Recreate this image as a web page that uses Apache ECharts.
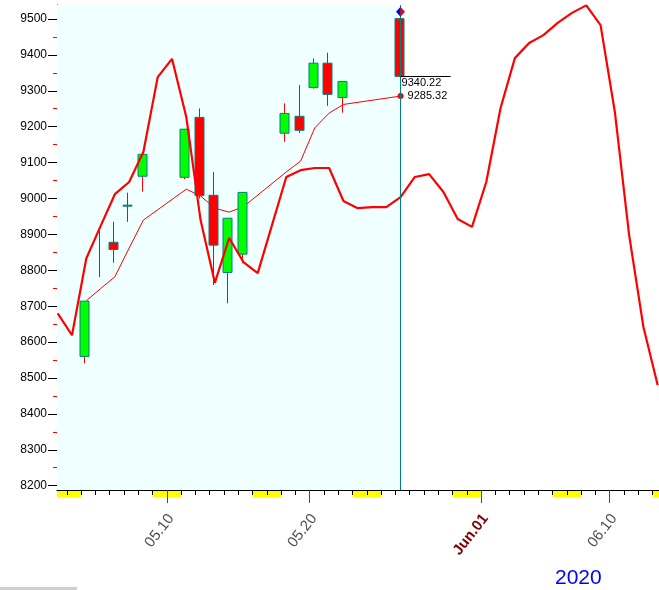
<!DOCTYPE html>
<html><head><meta charset="utf-8">
<script src="https://cdn.jsdelivr.net/npm/echarts@6/dist/echarts.min.js"></script>
<style>html,body{margin:0;padding:0;background:#fff;overflow:hidden}#c{width:659px;height:590px}</style>
</head><body><div id="c"></div>
<script>
// Day index: May d -> d, June d -> 31 + d
const candleDays = [4, 5, 6, 7, 8, 11, 12, 13, 14, 15, 18, 19, 20, 21, 22, 26];
const opens  = [8560, null, 8878, 8980, 9062, 9059, 9226, 9009, 8794, 8845, 9182, 9229, 9309, 9377, 9281, 9501];
const closes = [8714, null, 8858, 8980, 9123, 9193, 9008, 8870, 8945, 9017, 9237, 9190, 9377, 9290, 9326, 9340.22];
const lows   = [8541, 8781, 8821, 8935, 9019, 9054, 9000, 8759, 8708, 8820, 9158, 9183, 9306, 9258, 9239, 9340.22];
const highs  = [8714, 8910, 8935, 9016, 9123, 9193, 9251, 9074, 8945, 9017, 9265, 9316, 9390, 9406, 9326, 9502];
const maValues = [8715, 8749, 8782, 8862, 8940, 9026, 9007, 8973, 8962, 8977, 9074, 9104, 9197, 9238, 9262, 9285.32];

const forecastDays = [2,3,4,5,6,7,8,9,10,11,12,13,14,15,16,17,18,19,20,21,22,23,24,25,26,27,28,29,30,31,
                      32,33,34,35,36,37,38,39,40,41,42,43,44];
const forecastValues = [8680,8619,8833,8923,9012,9046,9130,9338,9389,9227,8940,8765,8890,8823,8792,8926,
                        9060,9079,9085,9085,8993,8973,8976,8976,9004,9060,9068,9018,8943,8921,
                        9046,9252,9391,9433,9455,9489,9517,9538,9483,9241,8898,8642,8480];

const weekendDays = [2,3,9,10,16,17,23,24,30,31,37,38,44,45];
const cursorDay = 26;
const lastClose = 9340.22;
const lastMA = 9285.32;
const signalValue = 9520;

const xLabelDays = [10, 20, 32, 41];
const xLabelTexts = ['05.10', '05.20', 'Jun.01', '06.10'];
const yMajorTicks = [8200,8300,8400,8500,8600,8700,8800,8900,9000,9100,9200,9300,9400,9500];
const yMinorTicks = [8250,8350,8450,8550,8650,8750,8850,8950,9050,9150,9250,9350,9450];
const yearText = '2020';

// axis ranges / styling constants
const X_MIN = 1.95, X_MAX = 44.09, Y_MIN = 8188, Y_MAX = 9539;
const DAY_START = -0.36;   // day boundary relative to day centre
const LABEL_SHIFT = 0.3;   // rotated label anchor offset (days)
const FONT = 'Liberation Sans, Arial, sans-serif';

const allDayStarts = [];
for (let d = 2; d <= 45; d++) allDayStarts.push(d + DAY_START);
const majorTickVals = xLabelDays.map(d => d + DAY_START);
const labelVals = majorTickVals.map(v => v + LABEL_SHIFT);

const chart = echarts.init(document.getElementById('c'));

const xBase = {
  type: 'value', min: X_MIN, max: X_MAX, position: 'bottom',
  splitLine: {show: false}
};
const yBase = {
  type: 'value', min: Y_MIN, max: Y_MAX, position: 'left',
  splitLine: {show: false}
};

chart.setOption({
  animation: false,
  grid: {left: 57, right: 0, top: 5, bottom: 100, containLabel: false},
  xAxis: [
    Object.assign({}, xBase, {
      axisLine: {show: true, lineStyle: {color: '#000', width: 1}},
      axisTick: {show: true, customValues: allDayStarts, length: 5, lineStyle: {color: '#000'}},
      axisLabel: {show: false}
    }),
    Object.assign({}, xBase, {
      axisLine: {show: false},
      axisTick: {show: true, customValues: majorTickVals, length: 13, lineStyle: {color: '#ff0000'}},
      axisLabel: {
        show: true, customValues: labelVals, rotate: 52, margin: 26,
        fontFamily: FONT, fontSize: 15, color: '#505050',
        formatter: v => {
          const i = labelVals.findIndex(t => Math.abs(t - v) < 0.01);
          if (i < 0) return '';
          const t = xLabelTexts[i];
          return t.indexOf('Jun') === 0 ? '{m|' + t + '}' : t;
        },
        rich: {m: {fontFamily: FONT, fontSize: 15, fontWeight: 'bold', color: '#800000'}}
      }
    })
  ],
  yAxis: [
    Object.assign({}, yBase, {
      axisLine: {show: true, lineStyle: {color: '#000', width: 1}},
      axisTick: {show: true, customValues: yMajorTicks, length: 9, lineStyle: {color: '#000'}},
      axisLabel: {show: true, customValues: yMajorTicks, margin: 10, fontFamily: FONT, fontSize: 12, color: '#000',
                  formatter: v => String(Math.round(v))}
    }),
    Object.assign({}, yBase, {
      axisLine: {show: false},
      axisTick: {show: true, customValues: yMinorTicks, length: 4, lineStyle: {color: '#ff0000'}},
      axisLabel: {show: false}
    })
  ],
  series: [
    {
      // weekend bands + history background + cursor
      type: 'custom', z: -1, clip: false, silent: true,
      data: weekendDays.map(d => [d, Y_MIN]),
      renderItem: (params, api) => {
        const cs = params.coordSys;
        const d = api.value(0);
        let x0 = api.coord([d + DAY_START, Y_MIN])[0];
        let x1 = api.coord([d + DAY_START + 1, Y_MIN])[0];
        x0 = Math.max(x0, cs.x); x1 = Math.min(x1, cs.x + cs.width);
        if (x1 <= x0) return null;
        return {type: 'rect', shape: {x: x0, y: cs.y + cs.height + 1, width: x1 - x0, height: 6.5},
                style: {fill: '#ffff00'}};
      },
      markArea: {silent: true, itemStyle: {color: '#f0ffff'},
                 data: [[{xAxis: X_MIN}, {xAxis: cursorDay}]]},
      markLine: {silent: true, symbol: 'none', label: {show: false},
                 lineStyle: {color: '#008080', width: 1, type: 'solid'},
                 data: [{xAxis: cursorDay}]}
    },
    {
      // moving average (thin)
      type: 'line', z: 2, symbol: 'none', silent: true,
      lineStyle: {color: '#ff0000', width: 1},
      data: candleDays.map((d, i) => {
        if (i === candleDays.length - 1) {
          return {value: [d, maValues[i]], symbol: 'circle', symbolSize: 6,
                  itemStyle: {color: '#ff0000'},
                  label: {show: true, position: 'right', distance: 4, formatter: String(lastMA),
                          fontFamily: FONT, fontSize: 11, color: '#000'}};
        }
        return [d, maValues[i]];
      })
    },
    {
      // candles
      type: 'custom', z: 3, silent: true,
      data: candleDays.map((d, i) => [d, highs[i], lows[i]]),
      renderItem: (params, api) => {
        const i = params.dataIndex;
        const d = api.value(0);
        const shift = -1.8;
        const pH = api.coord([d, highs[i]]);
        const pL = api.coord([d, lows[i]]);
        const x = Math.round(pH[0] + shift) + 0.5;
        const children = [{type: 'line', shape: {x1: x, y1: pH[1], x2: x, y2: pL[1]},
                           style: {stroke: '#ff0000', lineWidth: 1}}];
        if (opens[i] != null && closes[i] != null) {
          const yo = api.coord([d, opens[i]])[1];
          const yc = api.coord([d, closes[i]])[1];
          const top = Math.min(yo, yc), h = Math.abs(yo - yc);
          const up = closes[i] > opens[i];
          const flat = closes[i] === opens[i];
          children.push({type: 'rect',
            shape: {x: x - 4.5, y: flat ? top - 0.5 : top, width: 9, height: flat ? 1 : h},
            style: {fill: flat ? '#008080' : (up ? '#00ff00' : '#ff0000'), stroke: '#008080', lineWidth: 1}});
        }
        return {type: 'group', children: children};
      }
    },
    {
      // forecast line (thick)
      type: 'line', z: 4, symbol: 'none', silent: true,
      lineStyle: {color: '#ff0000', width: 2.2},
      data: forecastDays.map((d, i) => [d, forecastValues[i]])
    },
    {
      // last close marker line + label, signal diamond
      type: 'custom', z: 5, silent: true, clip: false,
      data: [[cursorDay, lastClose, signalValue]],
      renderItem: (params, api) => {
        const d = api.value(0);
        const pc = api.coord([d, api.value(1)]);
        const ps = api.coord([d, api.value(2)]);
        const y = Math.round(pc[1]) + 0.5;
        const sx = Math.round(ps[0]) - 0.5, sy = ps[1];
        return {type: 'group', children: [
          {type: 'line', shape: {x1: pc[0], y1: y, x2: pc[0] + 50, y2: y}, style: {stroke: '#000', lineWidth: 1}},
          {type: 'text', x: pc[0] + 1, y: y + 1,
           style: {text: String(lastClose), fill: '#000', font: '11px ' + FONT, textAlign: 'left', textVerticalAlign: 'top'}},
          {type: 'polygon', shape: {points: [[sx, sy - 5], [sx, sy + 5], [sx - 4.5, sy]]}, style: {fill: '#0000ff'}},
          {type: 'polygon', shape: {points: [[sx, sy - 5], [sx + 4.5, sy], [sx, sy + 5]]}, style: {fill: '#ff0000'}}
        ]};
      }
    }
  ],
  graphic: [
    {type: 'text', left: 555, top: 568, style: {text: yearText, fill: '#0000ff', font: '21px ' + FONT}},
    {type: 'rect', left: 0, top: 587, shape: {width: 77, height: 3}, style: {fill: '#cfcfcf'}}
  ]
});
</script>
</body></html>
